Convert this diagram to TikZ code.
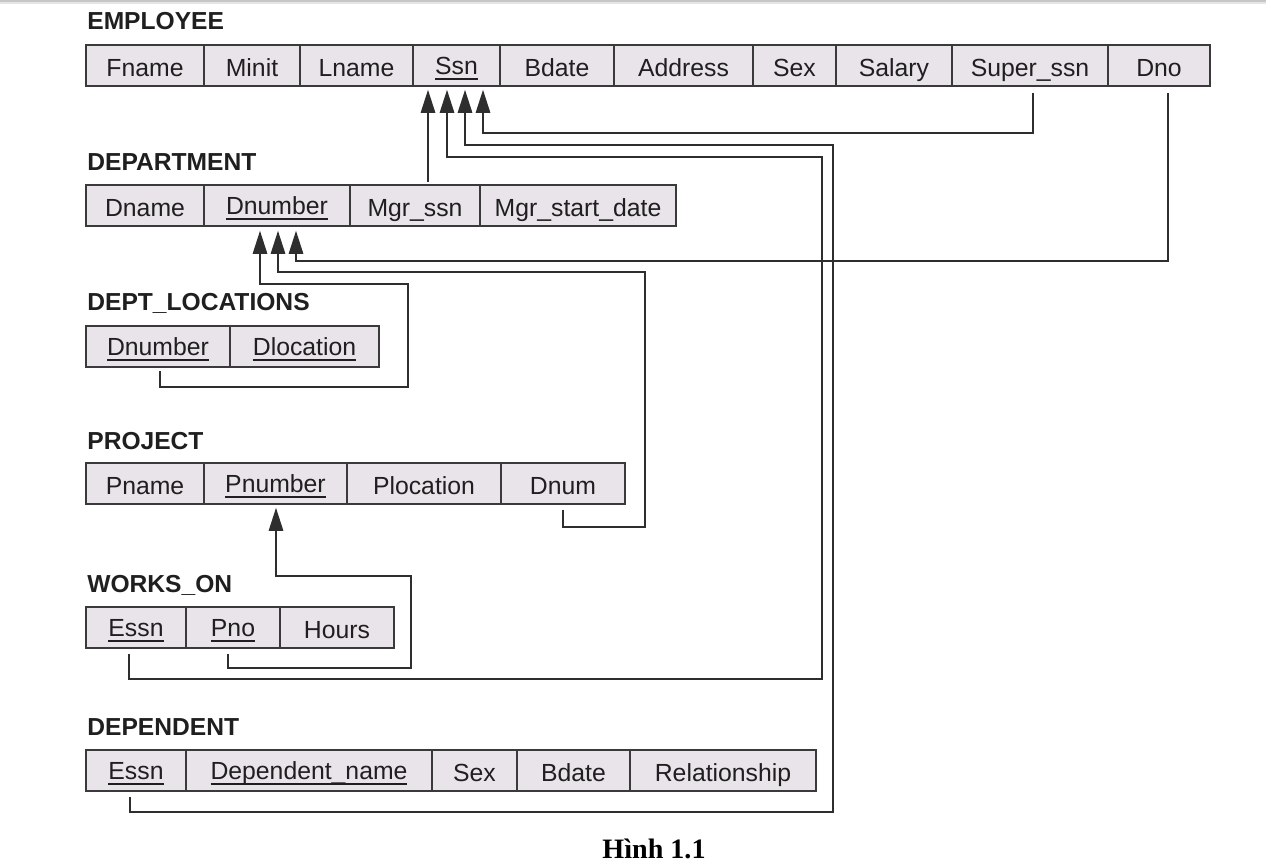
\documentclass[tikz,border=0pt]{standalone}
\usepackage{fontspec}
\setmainfont{Liberation Sans}
\newfontfamily\capfont{Liberation Serif}
\usetikzlibrary{arrows.meta}
\definecolor{cellfill}{HTML}{E9E4E9}
\definecolor{cellline}{HTML}{3A3A3A}
\definecolor{wire}{HTML}{2E2E2E}
\newcommand\keyul[1]{\setbox0\hbox{#1}\rlap{\rule[-3.2pt]{\wd0}{0.8pt}}\box0}
\newcommand\rcell[6]{%
  \pgfmathsetmacro\rcellw{(#4-#3)*0.02}%
  \node[#1, minimum width=\rcellw cm] (#2) at ({(#3+#4)/2},{#5+20.5}) {#6};}
\begin{document}
\begin{tikzpicture}[x=0.02cm,y=-0.02cm,
  fcell/.style={draw=cellline, fill=cellfill, line width=0.034cm, minimum height=0.82cm,
    inner sep=0pt, text height=0.5cm, text depth=0.08cm,
    font=\fontsize{14.1}{16}\selectfont, text=black!88},
  kcell/.style={fcell, text height=0.44cm, text depth=0.1cm},
  reltitle/.style={anchor=base west, inner sep=0pt,
    font=\fontsize{14}{16}\selectfont\bfseries, text=black!88},
  fk/.style={draw=wire, line width=0.026cm, -{Triangle[length=0.46cm,width=0.29cm]}}]
\useasboundingbox (0,0) rectangle (1266,867);
\fill[white] (0,0) rectangle (1266,867);
\fill[gray!45] (0,0) rectangle (1266,2);
\fill[gray!20] (0,2) rectangle (1266,3.5);

% EMPLOYEE
\node[reltitle] (t-emp) at (87,29) {EMPLOYEE};
\rcell{fcell}{e-fname}{86}{204}{45}{Fname}
\rcell{fcell}{e-minit}{204}{300}{45}{Minit}
\rcell{fcell}{e-lname}{300}{413}{45}{Lname}
\rcell{kcell}{e-ssn}{413}{500}{45}{\keyul{Ssn}}
\rcell{fcell}{e-bdate}{500}{614}{45}{Bdate}
\rcell{fcell}{e-addr}{614}{753}{45}{Address}
\rcell{fcell}{e-sex}{753}{836}{45}{Sex}
\rcell{fcell}{e-salary}{836}{952}{45}{Salary}
\rcell{fcell}{e-super}{952}{1108}{45}{Super\_ssn}
\rcell{fcell}{e-dno}{1108}{1210}{45}{Dno}

% DEPARTMENT
\node[reltitle] (t-dept) at (87,170) {DEPARTMENT};
\rcell{fcell}{d-dname}{86}{204}{185}{Dname}
\rcell{kcell}{d-dnum}{204}{350}{185}{\keyul{Dnumber}}
\rcell{fcell}{d-mgr}{350}{480}{185}{Mgr\_ssn}
\rcell{fcell}{d-mgrdate}{480}{676}{185}{Mgr\_start\_date}

% DEPT_LOCATIONS
\node[reltitle] (t-dl) at (87,310) {DEPT\_LOCATIONS};
\rcell{kcell}{dl-dnum}{86}{230}{326}{\keyul{Dnumber}}
\rcell{kcell}{dl-loc}{230}{379}{326}{\keyul{Dlocation}}

% PROJECT
\node[reltitle] (t-proj) at (87,449) {PROJECT};
\rcell{fcell}{p-pname}{86}{204}{463}{Pname}
\rcell{kcell}{p-pnum}{204}{347}{463}{\keyul{Pnumber}}
\rcell{fcell}{p-ploc}{347}{501}{463}{Plocation}
\rcell{fcell}{p-dnum}{501}{625}{463}{Dnum}

% WORKS_ON
\node[reltitle] (t-wo) at (87,592) {WORKS\_ON};
\rcell{kcell}{w-essn}{86}{186}{607}{\keyul{Essn}}
\rcell{kcell}{w-pno}{186}{280}{607}{\keyul{Pno}}
\rcell{fcell}{w-hours}{280}{394}{607}{Hours}

% DEPENDENT
\node[reltitle] (t-dep) at (87,735) {DEPENDENT};
\rcell{kcell}{dp-essn}{86}{186}{750}{\keyul{Essn}}
\rcell{kcell}{dp-name}{186}{432}{750}{\keyul{Dependent\_name}}
\rcell{fcell}{dp-sex}{432}{517}{750}{Sex}
\rcell{fcell}{dp-bdate}{517}{630}{750}{Bdate}
\rcell{fcell}{dp-rel}{630}{816}{750}{Relationship}

% routing corners
\coordinate (r-wo) at (822,157);
\coordinate (r-dep) at (833,145);
\coordinate (r-proj) at (645,272);
\coordinate (r-dl) at (408,284);
\coordinate (r-pno) at (411,576);

% foreign keys to Ssn
\draw[fk] ([shift={(13,-2)}]d-mgr.north) -- ([shift={(-28.5,3)}]e-ssn.south);
\draw[fk] ([shift={(-7,5)}]w-essn.south) -- ++(0,25) -| (r-wo) -| ([shift={(-9.5,3)}]e-ssn.south);
\draw[fk] ([shift={(-6,5)}]dp-essn.south) -- ++(0,15) -| (r-dep) -| ([shift={(8.5,3)}]e-ssn.south);
\draw[fk] ([shift={(3,6)}]e-super.south) -- ++(0,40) -| ([shift={(26.5,3)}]e-ssn.south);

% foreign keys to Dnumber
\draw[fk] ([shift={(2,3)}]dl-dnum.south) -- ++(0,16) -| (r-dl) -| ([shift={(-17,4)}]d-dnum.south);
\draw[fk] ([shift={(0,5)}]p-dnum.south) -- ++(0,17) -| (r-proj) -| ([shift={(1,4)}]d-dnum.south);
\draw[fk] ([shift={(9,6)}]e-dno.south) -- ++(0,168) -| ([shift={(19,4)}]d-dnum.south);

% foreign key to Pnumber
\draw[fk] ([shift={(-5,5)}]w-pno.south) -- ++(0,14) -| (r-pno) -| ([shift={(0.5,3)}]p-pnum.south);

% caption
\node[anchor=base, inner sep=0pt, font=\capfont\bfseries\fontsize{16}{18}\selectfont] (cap) at (654,858) {Hình 1.1};
\end{tikzpicture}
\end{document}
